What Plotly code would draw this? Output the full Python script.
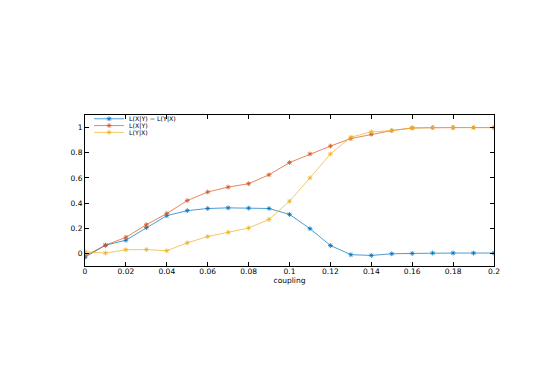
import plotly.graph_objects as go

coupling = [0.00, 0.01, 0.02, 0.03, 0.04, 0.05, 0.06, 0.07, 0.08, 0.09, 0.10,
            0.11, 0.12, 0.13, 0.14, 0.15, 0.16, 0.17, 0.18, 0.19, 0.20]

diff = [-0.03, 0.065, 0.105, 0.205, 0.30, 0.34, 0.357, 0.362, 0.36, 0.357, 0.31,
        0.197, 0.063, -0.01, -0.016, -0.003, 0.0, 0.003, 0.003, 0.003, 0.003]
lxy = [-0.02, 0.065, 0.128, 0.228, 0.317, 0.42, 0.488, 0.527, 0.554, 0.625, 0.722,
       0.79, 0.853, 0.913, 0.947, 0.976, 0.997, 1.0, 1.0, 1.0, 1.0]
lyx = [0.013, 0.003, 0.029, 0.031, 0.021, 0.084, 0.134, 0.168, 0.202, 0.27, 0.415,
       0.60, 0.79, 0.924, 0.966, 0.976, 0.997, 1.0, 1.0, 1.0, 1.0]

names = ["L(X|Y) \u2212 L(Y|X)", "L(X|Y)", "L(Y|X)"]
colors = ["rgb(0,114,189)", "rgb(217,83,25)", "rgb(237,177,32)"]

xticks = [0, 0.02, 0.04, 0.06, 0.08, 0.1, 0.12, 0.14, 0.16, 0.18, 0.2]
xticklabels = ["0", "0.02", "0.04", "0.06", "0.08", "0.1", "0.12", "0.14", "0.16", "0.18", "0.2"]
yticks = [0, 0.2, 0.4, 0.6, 0.8, 1]
yticklabels = ["0", "0.2", "0.4", "0.6", "0.8", "1"]

FONT = "DejaVu Sans, Arial"
FS = 7.5

fig = go.Figure()
legend_ids = ["legend", "legend2", "legend3"]
for ys, name, col, lg in zip([diff, lxy, lyx], names, colors, legend_ids):
    fig.add_trace(go.Scatter(
        x=coupling, y=ys, name=name, mode="lines+markers", legend=lg,
        line=dict(color=col, width=0.7),
        marker=dict(symbol="asterisk-open", size=4, color=col, line=dict(color=col, width=0.8)),
    ))

axis_common = dict(
    showline=True, linecolor="black", linewidth=1, mirror="ticks",
    ticks="inside", ticklen=4, tickcolor="black", tickwidth=0.6,
    showgrid=False, zeroline=False,
    tickfont=dict(family=FONT, size=FS, color="black"),
)

# one small legend per series so the rows sit close together like the original
legend_rows = [0.975, 0.930, 0.885]
legend_style = dict(x=0.01, xanchor="left", yanchor="middle",
                    bgcolor="rgba(0,0,0,0)", borderwidth=0,
                    font=dict(family=FONT, size=6.3, color="black"), itemwidth=30)

fig.update_layout(
    width=545, height=365,
    paper_bgcolor="white", plot_bgcolor="white",
    margin=dict(l=77, r=59, t=107, b=107),
    font=dict(family=FONT, size=FS, color="black"),
    xaxis=dict(range=[0, 0.2], tickvals=xticks, ticktext=xticklabels,
               ticklabelstandoff=-2, automargin=True,
               title=dict(text="coupling", standoff=0, font=dict(family=FONT, size=FS)),
               **axis_common),
    yaxis=dict(range=[-0.1, 1.1], tickvals=yticks, ticktext=yticklabels, **axis_common),
    legend=dict(y=legend_rows[0], **legend_style),
    legend2=dict(y=legend_rows[1], **legend_style),
    legend3=dict(y=legend_rows[2], **legend_style),
    showlegend=True,
)

fig.write_html("out.html")
